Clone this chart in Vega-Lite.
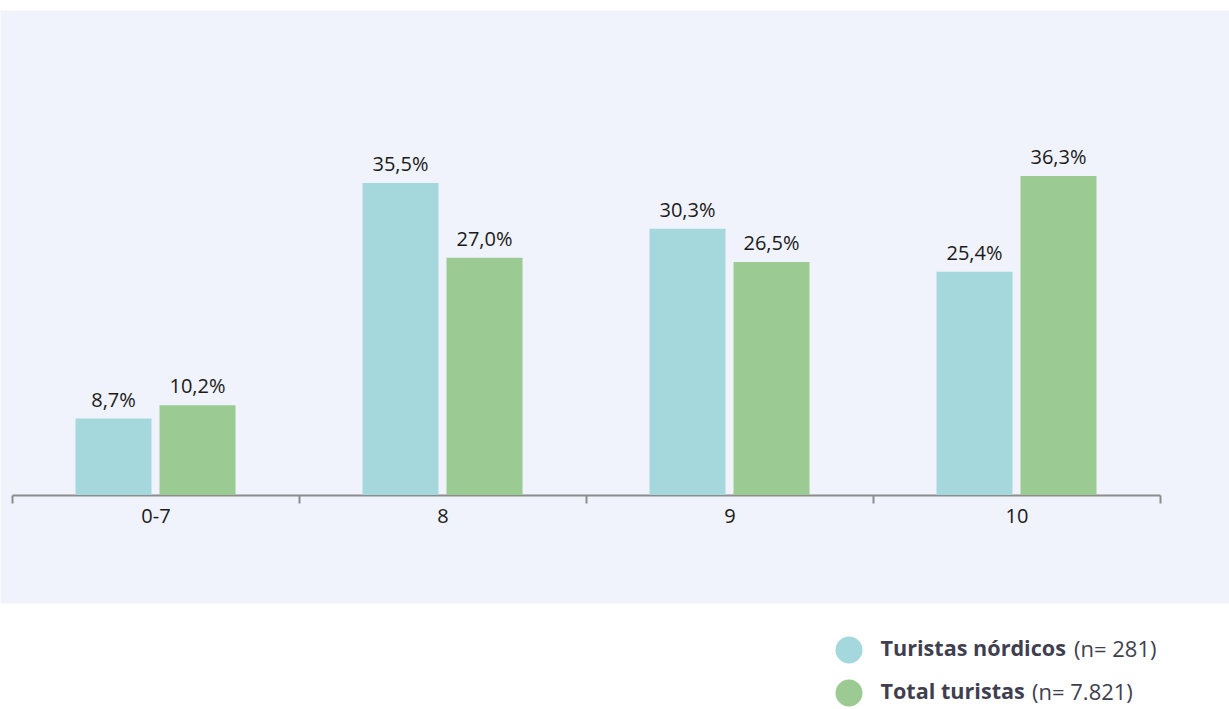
{
  "$schema": "https://vega.github.io/schema/vega-lite/v6.json",
  "width": 1229,
  "height": 593,
  "autosize": {"type": "none"},
  "padding": {"top": 10, "left": 0, "right": 0, "bottom": 106},
  "background": "white",
  "view": {"fill": "#F0F3FB", "stroke": "transparent"},
  "config": {
    "font": "Open Sans"
  },
  "datasets": {
    "main": [
      {"cat": "0-7", "serie": "Turistas nórdicos", "value": 8.7, "label": "8,7%"},
      {"cat": "0-7", "serie": "Total turistas", "value": 10.2, "label": "10,2%"},
      {"cat": "8", "serie": "Turistas nórdicos", "value": 35.5, "label": "35,5%"},
      {"cat": "8", "serie": "Total turistas", "value": 27.0, "label": "27,0%"},
      {"cat": "9", "serie": "Turistas nórdicos", "value": 30.3, "label": "30,3%"},
      {"cat": "9", "serie": "Total turistas", "value": 26.5, "label": "26,5%"},
      {"cat": "10", "serie": "Turistas nórdicos", "value": 25.4, "label": "25,4%"},
      {"cat": "10", "serie": "Total turistas", "value": 36.3, "label": "36,3%"}
    ],
    "ns": [
      {"n1": "(n= 281)", "n2": "(n= 7.821)"}
    ]
  },
  "layer": [
    {
      "data": {"name": "main"},
      "mark": {"type": "bar"},
      "encoding": {
        "x": {
          "field": "cat", "type": "nominal", "sort": ["0-7", "8", "9", "10"],
          "scale": {"range": [12, 1160], "paddingInner": 0, "paddingOuter": 0},
          "axis": {
            "title": null, "orient": "bottom", "offset": -108,
            "labelAngle": 0, "labelFontSize": 20, "labelColor": "#1a1a1a", "labelFont": "Open Sans",
            "labelPadding": 3,
            "domainColor": "#8C8C8C", "domainWidth": 2,
            "tickColor": "#8C8C8C", "tickWidth": 2, "tickSize": 8, "tickBand": "extent",
            "grid": false
          }
        },
        "xOffset": {
          "field": "serie", "type": "nominal", "sort": ["Turistas nórdicos", "Total turistas"],
          "scale": {"paddingInner": 0.0952, "paddingOuter": 0.756}
        },
        "y": {
          "field": "value", "type": "quantitative",
          "scale": {"domain": [-12.29, 55.18], "nice": false, "zero": false},
          "axis": null
        },
        "color": {
          "field": "serie", "type": "nominal", "sort": ["Turistas nórdicos", "Total turistas"],
          "scale": {"domain": ["Turistas nórdicos", "Total turistas"], "range": ["#A5D8DC", "#9BCB93"]},
          "legend": {
            "title": null, "orient": "none", "legendX": 835.5, "legendY": 626.5,
            "padding": 0, "symbolType": "circle", "symbolSize": 729, "symbolStrokeWidth": 0,
            "labelFontSize": 21.6, "labelFontWeight": "bold", "labelColor": "#3F3F4F", "labelFont": "Open Sans",
            "labelOffset": 18, "rowPadding": 16, "labelLimit": 400
          }
        }
      }
    },
    {
      "data": {"name": "main"},
      "mark": {"type": "text", "baseline": "alphabetic", "dy": -12, "fontSize": 20, "color": "#1a1a1a", "font": "Open Sans"},
      "encoding": {
        "x": {"field": "cat", "type": "nominal", "sort": ["0-7", "8", "9", "10"]},
        "xOffset": {"field": "serie", "type": "nominal", "sort": ["Turistas nórdicos", "Total turistas"]},
        "y": {"field": "value", "type": "quantitative"},
        "text": {"field": "label", "type": "nominal"}
      }
    },
    {
      "data": {"name": "ns"},
      "mark": {"type": "point", "opacity": 0},
      "encoding": {
        "shape": {
          "field": "n1", "type": "nominal",
          "legend": {
            "title": null, "orient": "none", "legendX": 1052, "legendY": 629, "padding": 0,
            "symbolSize": 0, "symbolOpacity": 0, "symbolStrokeWidth": 0, "labelOffset": 0,
            "labelFontSize": 22, "labelColor": "#3F3F4F", "labelFont": "Open Sans", "labelLimit": 400
          }
        },
        "strokeDash": {
          "field": "n2", "type": "nominal",
          "legend": {
            "title": null, "orient": "none", "legendX": 1010, "legendY": 672, "padding": 0,
            "symbolSize": 0, "symbolOpacity": 0, "symbolStrokeWidth": 0, "labelOffset": 0,
            "labelFontSize": 22, "labelColor": "#3F3F4F", "labelFont": "Open Sans", "labelLimit": 400
          }
        }
      }
    }
  ]
}
